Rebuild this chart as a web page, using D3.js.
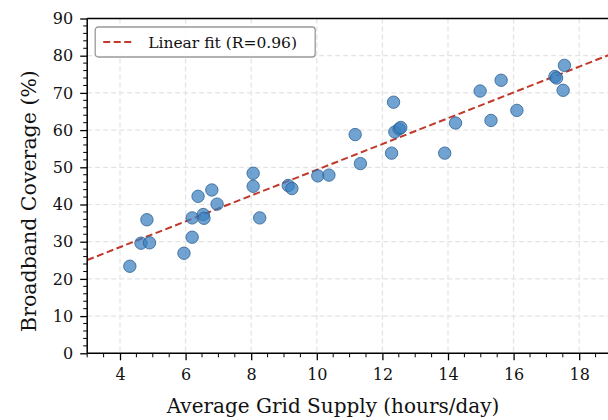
<!DOCTYPE html>
<html>
<head>
<meta charset="utf-8">
<script src="https://cdn.jsdelivr.net/npm/d3@7"></script>
<style>
  body { margin: 0; background: #fff; }
  text { font-family: "DejaVu Serif", "Liberation Serif", serif; fill: #111; }
</style>
</head>
<body>
<div id="chart"></div>
<script>
// grid supply (hours/day) vs broadband coverage (%)
var supply = [4.30, 4.64, 4.90, 4.82, 5.95, 6.20, 6.20, 6.54, 6.56, 6.38, 6.80, 6.96,
  8.06, 8.06, 8.26, 9.13, 9.24, 10.03, 10.37, 11.17, 11.33, 12.34, 12.28, 12.38,
  12.51, 12.56, 13.90, 14.23, 14.98, 15.62, 15.31, 16.10, 17.26, 17.31, 17.55, 17.51];
var coverage = [23.4, 29.6, 29.7, 35.9, 26.9, 31.2, 36.4, 37.3, 36.3, 42.2, 43.9, 40.1,
  48.4, 44.9, 36.4, 45.1, 44.3, 47.7, 47.9, 58.8, 51.0, 67.5, 53.8, 59.5,
  60.3, 60.7, 53.8, 61.9, 70.5, 73.4, 62.6, 65.3, 74.4, 74.0, 77.4, 70.7];

// fitted line
var fitSlope = 3.466;
var fitIntercept = 14.67;
var fitLabel = "Linear fit (R=0.96)";

var xTicks = [4, 6, 8, 10, 12, 14, 16, 18];
var yTicks = [0, 10, 20, 30, 40, 50, 60, 70, 80, 90];

var svgWidth = 608;
var svgHeight = 420;
var margin = { top: 18.5, right: -4, bottom: 66.7, left: 87.2 };
var width = svgWidth - margin.left - margin.right;
var height = svgHeight - margin.top - margin.bottom;

var svg = d3.select("#chart")
  .append("svg")
  .attr("width", svgWidth)
  .attr("height", svgHeight);

var chartGroup = svg.append("g")
  .attr("transform", `translate(${margin.left}, ${margin.top})`);

var xScale = d3.scaleLinear().domain([3, 19]).range([0, width]);
var yScale = d3.scaleLinear().domain([0, 90]).range([height, 0]);

// grid
chartGroup.append("g").selectAll("line")
  .data(xTicks).enter().append("line")
  .attr("x1", d => xScale(d)).attr("x2", d => xScale(d))
  .attr("y1", 0).attr("y2", height)
  .attr("stroke", "#e3e3e3").attr("stroke-width", 1.2)
  .attr("stroke-dasharray", "5,3");

chartGroup.append("g").selectAll("line")
  .data(yTicks).enter().append("line")
  .attr("x1", 0).attr("x2", width)
  .attr("y1", d => yScale(d)).attr("y2", d => yScale(d))
  .attr("stroke", "#e3e3e3").attr("stroke-width", 1.2)
  .attr("stroke-dasharray", "5,3");

// fit line
var fitX = xScale.domain();
chartGroup.append("line")
  .attr("x1", xScale(fitX[0])).attr("y1", yScale(fitSlope * fitX[0] + fitIntercept))
  .attr("x2", xScale(fitX[1])).attr("y2", yScale(fitSlope * fitX[1] + fitIntercept))
  .attr("stroke", "#c0392b").attr("stroke-width", 2)
  .attr("stroke-dasharray", "7,3.5");

// points
chartGroup.selectAll("circle")
  .data(supply)
  .enter()
  .append("circle")
  .attr("cx", d => xScale(d))
  .attr("cy", (d, i) => yScale(coverage[i]))
  .attr("r", 6.2)
  .attr("fill", "#3a7fc0")
  .attr("fill-opacity", 0.72)
  .attr("stroke", "#2f5f90")
  .attr("stroke-width", 0.8);

// axes
var bottomAxis = d3.axisBottom(xScale).tickValues(xTicks).tickSize(7).tickPadding(8);
var leftAxis = d3.axisLeft(yScale).tickValues(yTicks).tickSize(7).tickPadding(7);

var xMinor = d3.range(3, 19.01, 0.5).filter(v => v % 2 !== 0);
var yMinor = d3.range(0, 90.01, 2).filter(v => v % 10 !== 0);

var xAxisG = chartGroup.append("g")
  .attr("transform", `translate(0, ${height})`)
  .call(bottomAxis);
xAxisG.append("g").selectAll("line")
  .data(xMinor).enter().append("line")
  .attr("x1", d => xScale(d)).attr("x2", d => xScale(d))
  .attr("y1", 0).attr("y2", 4)
  .attr("stroke", "#000").attr("stroke-width", 1);

var yAxisG = chartGroup.append("g").call(leftAxis);
yAxisG.append("g").selectAll("line")
  .data(yMinor).enter().append("line")
  .attr("y1", d => yScale(d)).attr("y2", d => yScale(d))
  .attr("x1", 0).attr("x2", -4)
  .attr("stroke", "#000").attr("stroke-width", 1);

[xAxisG, yAxisG].forEach(function(g) {
  g.attr("font-family", null);
  g.select(".domain").remove();
  g.selectAll(".tick line").attr("stroke", "#000").attr("stroke-width", 1.3);
  g.selectAll(".tick text")
    .style("font-family", "'DejaVu Serif', 'Liberation Serif', serif")
    .style("font-size", "16px")
    .attr("fill", "#111");
});

// spines
chartGroup.append("line").attr("x1", 0).attr("x2", 0).attr("y1", 0).attr("y2", height)
  .attr("stroke", "#000").attr("stroke-width", 1.5);
chartGroup.append("line").attr("x1", 0).attr("x2", width).attr("y1", height).attr("y2", height)
  .attr("stroke", "#000").attr("stroke-width", 1.5);
chartGroup.append("line").attr("x1", 0).attr("x2", width).attr("y1", 0).attr("y2", 0)
  .attr("stroke", "#000").attr("stroke-width", 1.5);

// legend
var legend = chartGroup.append("g").attr("transform", "translate(8, 8.5)");
legend.append("rect")
  .attr("width", 220).attr("height", 30).attr("rx", 3)
  .attr("fill", "#fff").attr("fill-opacity", 0.85)
  .attr("stroke", "#999").attr("stroke-width", 1.3);
legend.append("line")
  .attr("x1", 8).attr("x2", 38).attr("y1", 15).attr("y2", 15)
  .attr("stroke", "#c0392b").attr("stroke-width", 2)
  .attr("stroke-dasharray", "7,3.5");
legend.append("text")
  .attr("x", 53).attr("y", 20.5)
  .style("font-size", "15.5px")
  .text(fitLabel);

// labels
svg.append("text")
  .attr("transform", "rotate(-90)")
  .attr("x", -201)
  .attr("y", 36)
  .style("text-anchor", "middle")
  .style("font-size", "20.5px")
  .text("Broadband Coverage (%)");

svg.append("text")
  .attr("x", 333)
  .attr("y", 413)
  .style("text-anchor", "middle")
  .style("font-size", "20px")
  .text("Average Grid Supply (hours/day)");
</script>
</body>
</html>
